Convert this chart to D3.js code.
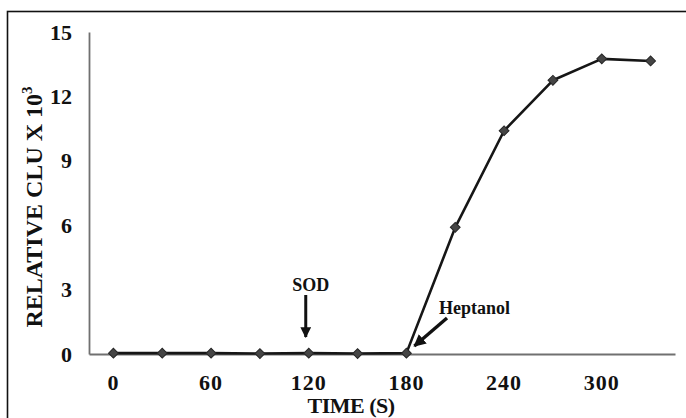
<!DOCTYPE html>
<html>
<head>
<meta charset="utf-8">
<script src="https://cdn.jsdelivr.net/npm/d3@7"></script>
<style>
  html, body { margin: 0; padding: 0; background: #fff; }
  svg { display: block; }
  text { font-family: "Liberation Serif", "Times New Roman", serif; font-weight: bold; fill: #111; }
</style>
</head>
<body>
<svg id="chart" width="686" height="418"></svg>
<script>
// ---- data ----
const times = [0, 30, 60, 90, 120, 150, 180, 210, 240, 270, 300, 330];
const clu = [0.04, 0.04, 0.04, 0.02, 0.04, 0.02, 0.04, 5.9, 10.4, 12.75, 13.75, 13.65];
const xTickLabels = [0, 60, 120, 180, 240, 300];
const yTicks = [0, 3, 6, 9, 12, 15];
const annotations = [
  { label: "SOD", time: 120, value: 0 },
  { label: "Heptanol", time: 180, value: 0 }
];

const svg = d3.select("#chart");
const plot = { left: 89, right: 675, top: 32, bottom: 354 };

// outer frame
svg.append("rect")
  .attr("x", 7.5).attr("y", 11.5).attr("width", 720).attr("height", 440)
  .attr("fill", "none").attr("stroke", "#111").attr("stroke-width", 1.6);

const x = d3.scaleBand().domain(times).range([plot.left, plot.right]);
const y = d3.scaleLinear().domain([0, 15]).range([plot.bottom, plot.top]);
const cx = t => x(t) + x.bandwidth() / 2;

// y axis
const yAxis = svg.append("g")
  .attr("transform", `translate(${plot.left},0)`)
  .call(d3.axisLeft(y).tickValues(yTicks).tickSize(0).tickPadding(17).tickFormat(d3.format("d")));
yAxis.select(".domain").attr("stroke", "#707070").attr("stroke-width", 1.8);
yAxis.selectAll("text").attr("font-size", 22).attr("fill", "#111")
  .attr("font-family", "'Liberation Serif', 'Times New Roman', serif").attr("font-weight", "bold");

// x axis
const xAxis = svg.append("g")
  .attr("transform", `translate(0,${plot.bottom})`)
  .call(d3.axisBottom(x).tickValues(xTickLabels).tickSize(0).tickPadding(20));
xAxis.select(".domain").attr("stroke", "#707070").attr("stroke-width", 1.8);
xAxis.selectAll("text").attr("font-size", 22).attr("fill", "#111")
  .attr("font-family", "'Liberation Serif', 'Times New Roman', serif").attr("font-weight", "bold")
  .attr("letter-spacing", 1);

// axis titles
svg.append("text")
  .attr("x", 351).attr("y", 413)
  .attr("text-anchor", "middle").attr("font-size", 22)
  .attr("letter-spacing", -0.5)
  .text("TIME (S)");

const yt = svg.append("text")
  .attr("transform", "translate(42,207) rotate(-90)")
  .attr("text-anchor", "middle").attr("font-size", 24);
yt.append("tspan").text("RELATIVE CLU X 10");
yt.append("tspan").attr("font-size", 15).attr("dy", -10).text("3");

// line
const line = d3.line().x((d, i) => cx(times[i])).y(d => y(d));
svg.append("path").datum(clu)
  .attr("d", line).attr("fill", "none")
  .attr("stroke", "#161616").attr("stroke-width", 2.6).attr("stroke-linejoin", "round");

// markers
const diamond = d3.symbol().type(d3.symbolSquare).size(48);
svg.selectAll(".m").data(clu).join("path")
  .attr("class", "m")
  .attr("d", diamond)
  .attr("transform", (d, i) => `translate(${cx(times[i])},${y(d)}) rotate(45)`)
  .attr("fill", "#454545").attr("stroke", "#262626").attr("stroke-width", 1);

// arrow head marker
const defs = svg.append("defs");
defs.append("marker")
  .attr("id", "ah").attr("viewBox", "0 0 10 10").attr("refX", 9).attr("refY", 5)
  .attr("markerWidth", 3.6).attr("markerHeight", 3.6).attr("orient", "auto")
  .append("path").attr("d", "M0,0 L10,5 L0,10 Z").attr("fill", "#111");

// SOD annotation
const sod = annotations[0];
const sx = cx(sod.time) - 3;
svg.append("text").attr("x", sx + 5).attr("y", 291)
  .attr("text-anchor", "middle").attr("font-size", 18).text(sod.label);
svg.append("line")
  .attr("x1", sx).attr("y1", 295).attr("x2", sx).attr("y2", y(sod.value) - 17)
  .attr("stroke", "#111").attr("stroke-width", 3).attr("marker-end", "url(#ah)");

// Heptanol annotation
const hep = annotations[1];
const hx = cx(hep.time);
svg.append("text").attr("x", 439).attr("y", 314)
  .attr("font-size", 18).text(hep.label);
svg.append("line")
  .attr("x1", 447).attr("y1", 318).attr("x2", hx + 8).attr("y2", y(hep.value) - 8)
  .attr("stroke", "#111").attr("stroke-width", 3.4).attr("marker-end", "url(#ah)");
</script>
</body>
</html>
